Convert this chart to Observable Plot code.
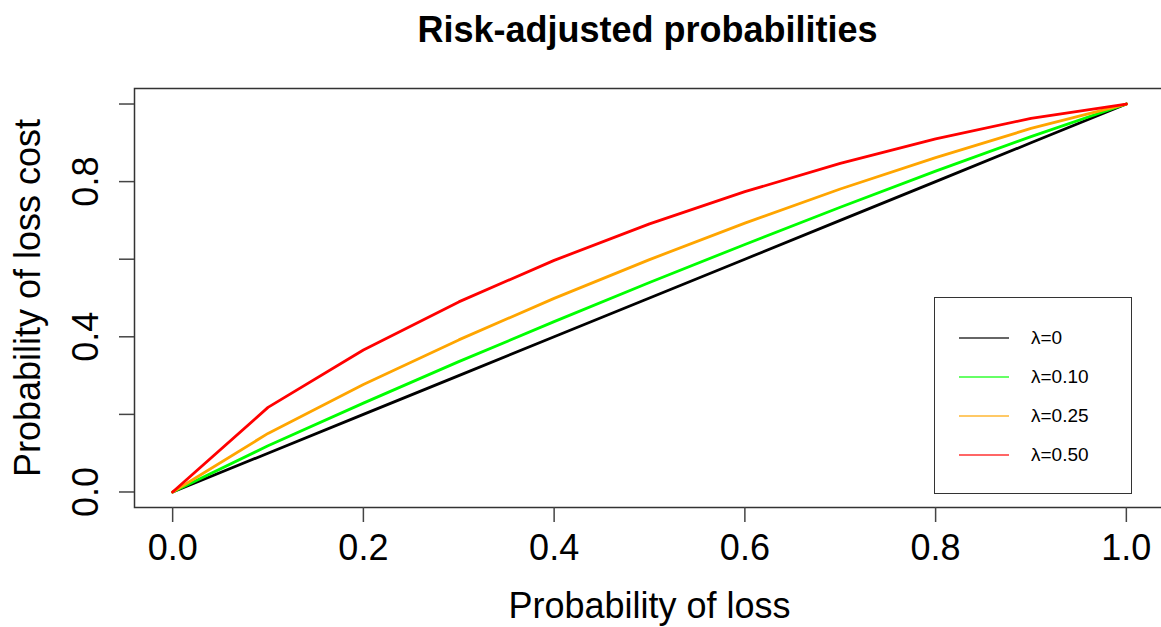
<!DOCTYPE html>
<html>
<head>
<meta charset="utf-8">
<script src="https://cdn.jsdelivr.net/npm/d3@7"></script>
<script src="https://cdn.jsdelivr.net/npm/@observablehq/plot@0.6"></script>
<style>
  html, body { margin: 0; padding: 0; background: #fff; }
  #wrap { position: relative; width: 1161px; height: 627px; overflow: hidden; font-family: "Liberation Sans", Arial, Helvetica, sans-serif; }
  #title { height: 60px; box-sizing: border-box; padding-top: 12px; padding-left: 134px; width: 1161px; text-align: center;
           font-size: 36px; line-height: 36px; font-weight: bold; color: #000; }
  #title span { display: inline-block; width: 1027px; }
  #legend { position: absolute; left: 934px; top: 297px; width: 198px; height: 197px; box-sizing: border-box;
            border: 1.5px solid #333; background: #fff; }
  .item { position: absolute; left: 0; height: 20px; width: 196px; }
  .swatch { position: absolute; left: 24px; top: 9px; width: 50px; height: 2px; }
  .lab { position: absolute; left: 96px; top: 0; font-size: 19px; line-height: 20px; color: #000; }
</style>
</head>
<body>
<div id="wrap">
  <div id="title"><span>Risk-adjusted probabilities</span></div>
  <div id="chart"></div>
  <div id="legend"></div>
</div>
<script>
// Data
const pLoss      = [0.0, 0.1, 0.2, 0.3, 0.4, 0.5, 0.6, 0.7, 0.8, 0.9, 1.0];
const lambda0    = [0.0, 0.100, 0.200, 0.300, 0.400, 0.500, 0.600, 0.700, 0.800, 0.900, 1.0];
const lambda010  = [0.0, 0.119, 0.229, 0.336, 0.439, 0.540, 0.638, 0.734, 0.827, 0.916, 1.0];
const lambda025  = [0.0, 0.151, 0.277, 0.392, 0.499, 0.599, 0.693, 0.781, 0.862, 0.937, 1.0];
const lambda050  = [0.0, 0.218, 0.366, 0.490, 0.597, 0.691, 0.774, 0.847, 0.910, 0.963, 1.0];
const seriesNames  = ["λ=0", "λ=0.10", "λ=0.25", "λ=0.50"];
const seriesColors = ["#000000", "#00ff00", "#ffa500", "#ff0000"];
const legendColors = ["rgba(0,0,0,0.6)", "rgba(0,255,0,0.6)", "rgba(255,165,0,0.6)", "rgba(255,0,0,0.6)"];
const xTicks = [0.0, 0.2, 0.4, 0.6, 0.8, 1.0];
const yTicks = [0.0, 0.2, 0.4, 0.6, 0.8, 1.0];
const yTickLabels = [0.0, 0.4, 0.8];
const xLabel = "Probability of loss";
const yLabel = "Probability of loss cost";

const seriesValues = [lambda0, lambda010, lambda025, lambda050];
const table = [];
seriesValues.forEach((vals, i) => {
  vals.forEach((v, j) => table.push({series: seriesNames[i], p: pLoss[j], q: v}));
});

const fmt = d3.format(".1f");

const chart = Plot.plot({
  width: 1161,
  height: 567,
  marginLeft: 134,
  marginRight: -3,
  marginTop: 28,
  marginBottom: 120,
  style: {fontFamily: "Liberation Sans, Arial, Helvetica, sans-serif", fontSize: "36px", color: "#000", background: "#fff"},
  x: {domain: [-0.04, 1.04]},
  y: {domain: [-0.04, 1.04]},
  color: {type: "ordinal", domain: seriesNames, range: seriesColors},
  marks: [
    Plot.frame({stroke: "#333", strokeWidth: 1.5}),
    Plot.axisX({ticks: xTicks, tickSize: 15, tickPadding: 12, tickFormat: fmt, stroke: "#444", strokeWidth: 1.5,
                label: xLabel, labelAnchor: "center", labelArrow: "none", labelOffset: 110, fontSize: 36}),
    Plot.axisY({ticks: yTicks, tickSize: 15, tickFormat: () => "", stroke: "#444", strokeWidth: 1.5,
                label: yLabel, labelAnchor: "center", labelArrow: "none", labelOffset: 120, fontSize: 36}),
    Plot.text(yTickLabels, {y: d => d, text: d => fmt(d), frameAnchor: "left", dx: -48, rotate: -90,
                            textAnchor: "middle", lineAnchor: "middle", fontSize: 36, fill: "#000"}),
    Plot.line(table, {x: "p", y: "q", z: "series", stroke: "series", strokeWidth: 2.8})
  ]
});
document.getElementById("chart").appendChild(chart);

// legend
const legend = document.getElementById("legend");
const itemTops = [30, 69, 108, 147];
seriesNames.forEach((name, i) => {
  const it = document.createElement("div");
  it.className = "item";
  it.style.top = itemTops[i] + "px";
  const sw = document.createElement("div");
  sw.className = "swatch";
  sw.style.background = legendColors[i];
  const lb = document.createElement("div");
  lb.className = "lab";
  lb.textContent = name;
  it.appendChild(sw); it.appendChild(lb);
  legend.appendChild(it);
});
</script>
</body>
</html>
